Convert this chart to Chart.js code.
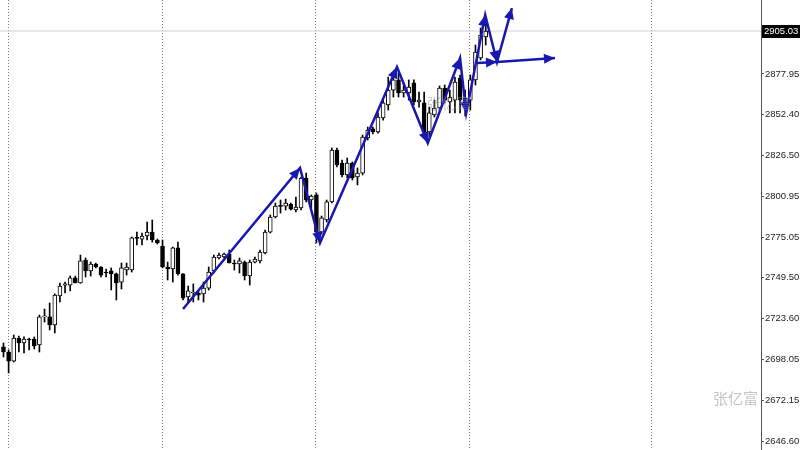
<!DOCTYPE html>
<html>
<head>
<meta charset="utf-8">
<script src="https://cdn.jsdelivr.net/npm/chart.js@4.4.1/dist/chart.umd.min.js"></script>
<style>
html,body{margin:0;padding:0;background:#fff;}
#wrap{width:800px;height:450px;position:relative;}
</style>
</head>
<body>
<div id="wrap"><canvas id="c" width="800" height="450"></canvas></div>
<script>
// ---- data (candles indexed 0..94) ----
const opens  = [2705.9,2702.7,2697.0,2711.5,2708.4,2710.9,2710.9,2707.1,2724.8,2724.8,
                2719.7,2738.0,2744.9,2744.9,2749.4,2746.2,2760.7,2753.8,2758.2,2756.3,
                2753.1,2753.8,2751.9,2746.8,2754.4,2754.4,2774.6,2773.9,2775.8,2778.3,
                2773.3,2769.5,2756.3,2755.0,2768.3,2751.9,2737.4,2739.9,2739.9,2739.3,
                2743.0,2753.8,2762.0,2762.6,2764.5,2758.8,2758.2,2759.4,2750.6,2759.4,
                2760.1,2765.1,2778.3,2787.8,2794.7,2794.7,2796.0,2792.2,2793.5,2812.4,
                2798.5,2801.7,2778.3,2785.9,2797.3,2830.0,2821.8,2814.3,2821.8,2813.0,
                2815.5,2837.6,2843.3,2841.4,2850.2,2858.4,2867.8,2874.2,2866.0,2866.0,
                2872.3,2860.3,2859.7,2841.4,2852.1,2856.5,2869.1,2860.3,2861.5,2875.4,
                2856.5,2861.5,2874.2,2888.0,2901.3];
const highs  = [2708.4,2704.0,2713.4,2712.8,2712.2,2711.5,2712.2,2726.0,2729.8,2733.6,
                2739.3,2746.2,2746.8,2750.6,2750.6,2763.8,2762.0,2759.4,2758.8,2756.5,
                2755.0,2755.7,2752.5,2758.8,2758.8,2775.2,2778.3,2777.7,2784.6,2785.9,
                2773.9,2773.3,2759.4,2768.9,2772.0,2752.1,2744.3,2745.6,2741.2,2746.8,
                2756.3,2763.8,2765.1,2765.1,2767.0,2760.7,2762.0,2760.1,2760.7,2762.6,
                2767.0,2779.6,2789.1,2796.6,2798.5,2799.1,2796.6,2800.4,2813.0,2815.5,
                2801.7,2802.9,2788.4,2798.5,2831.3,2831.3,2823.7,2825.0,2822.5,2818.7,
                2839.5,2844.5,2844.5,2853.4,2862.8,2876.0,2877.3,2878.6,2872.3,2874.2,
                2874.2,2866.6,2866.6,2857.1,2861.5,2870.4,2871.0,2867.8,2876.0,2877.3,
                2867.8,2877.3,2896.2,2906.9,2908.8];
const lows   = [2699.6,2689.5,2696.4,2702.7,2702.1,2704.0,2704.6,2702.7,2721.6,2716.6,
                2714.7,2734.2,2739.9,2741.2,2746.2,2746.0,2750.0,2750.6,2755.7,2750.0,
                2750.0,2741.8,2735.5,2742.4,2751.2,2753.1,2770.2,2770.2,2773.3,2772.0,
                2770.8,2755.7,2748.1,2746.8,2751.2,2735.5,2733.6,2734.2,2735.5,2734.2,
                2741.8,2752.5,2761.3,2762.0,2758.8,2754.4,2752.5,2748.1,2744.9,2758.8,
                2758.8,2764.5,2777.7,2787.2,2790.3,2792.2,2792.2,2791.0,2792.2,2797.3,
                2793.5,2771.4,2777.1,2784.6,2796.6,2819.3,2813.0,2812.4,2811.1,2808.0,
                2814.3,2836.3,2840.1,2840.7,2848.9,2855.2,2863.4,2863.4,2863.4,2861.5,
                2858.4,2857.1,2840.1,2838.2,2850.8,2855.2,2859.7,2853.4,2853.4,2853.4,
                2851.5,2855.2,2871.0,2886.8,2896.2];
const closes = [2702.7,2697.0,2711.5,2708.4,2710.9,2710.3,2706.5,2724.8,2725.0,2719.7,
                2738.6,2744.3,2745.6,2749.4,2746.2,2760.1,2753.8,2758.2,2756.3,2751.2,
                2752.5,2751.9,2746.2,2755.7,2756.3,2774.6,2774.3,2775.8,2778.3,2773.3,
                2771.4,2756.3,2755.0,2768.3,2751.9,2736.7,2741.2,2740.1,2738.6,2743.0,
                2753.1,2762.6,2763.8,2764.5,2758.8,2758.2,2760.1,2750.6,2759.4,2761.3,
                2765.7,2778.3,2787.8,2794.7,2794.5,2796.6,2792.8,2794.1,2812.4,2798.5,
                2801.0,2778.3,2787.2,2797.3,2830.0,2820.6,2814.3,2821.8,2812.4,2815.5,
                2838.2,2842.6,2841.4,2850.8,2859.7,2867.8,2874.2,2866.0,2867.8,2869.7,
                2860.3,2861.5,2841.4,2853.4,2856.5,2869.1,2861.5,2863.4,2872.9,2861.5,
                2862.8,2874.2,2891.8,2902.5,2905.03];

// hand-drawn zigzag arrows (bar index, price)
const zigX  = [35.0, 57.8, 61.7, 76.7, 82.7, 89.0, 90.2, 93.9, 96.2, 99.1];
const zigY  = [2729.8, 2818.7, 2771.4, 2882.3, 2834.4, 2888.0, 2853.4, 2915.1, 2885.5, 2919.5];
const flatX = [92.3, 96.2, 107.5];
const flatY = [2884.9, 2885.5, 2888.0];

// axis tick labels / grid positions
const yTickValues = [2646.60, 2672.15, 2698.05, 2723.60, 2749.50, 2775.05, 2800.95, 2826.50, 2852.40, 2877.95];
const xGridPositions = [0.9, 30.9, 60.9, 90.9, 126.4];
const currentPrice = 2905.03;
const watermark = '张亿富';

// ---- build datasets ----
const wickData = opens.map((o, i) => ({x: i, y: [lows[i], highs[i]]}));
const bodyData = opens.map((o, i) => ({x: i, y: [Math.min(o, closes[i]), Math.max(o, closes[i])]}));
const bodyFill = opens.map((o, i) => closes[i] >= o ? '#ffffff' : '#000000');
const zigData = zigX.map((x, i) => ({x, y: zigY[i]}));
const flatData = flatX.map((x, i) => ({x, y: flatY[i]}));

const arrowPlugin = {
  id: 'arrows',
  afterDatasetsDraw(chart) {
    const ctx = chart.ctx;
    chart.data.datasets.forEach((ds, di) => {
      if (!ds.arrowHeads) return;
      const pts = chart.getDatasetMeta(di).data;
      ctx.save();
      ctx.fillStyle = ds.borderColor;
      for (let j = 1; j < pts.length; j++) {
        const a = pts[j - 1], b = pts[j];
        const ang = Math.atan2(b.y - a.y, b.x - a.x);
        const L = 11, W = 5;
        ctx.beginPath();
        ctx.moveTo(b.x, b.y);
        ctx.lineTo(b.x - L * Math.cos(ang) + W * Math.sin(ang), b.y - L * Math.sin(ang) - W * Math.cos(ang));
        ctx.lineTo(b.x - L * Math.cos(ang) - W * Math.sin(ang), b.y - L * Math.sin(ang) + W * Math.cos(ang));
        ctx.closePath();
        ctx.fill();
      }
      ctx.restore();
    });
  },
  afterDraw(chart) {
    const ctx = chart.ctx;
    const ys = chart.scales.y;
    const py = Math.round(ys.getPixelForValue(currentPrice));
    ctx.save();
    ctx.fillStyle = '#000';
    ctx.fillRect(ys.left + 1, py - 6, 39, 13);
    ctx.fillStyle = '#fff';
    ctx.font = '9.5px "Liberation Sans"';
    ctx.textBaseline = 'middle';
    ctx.fillText(currentPrice.toFixed(2), ys.left + 3, py + 0.5);
    // watermarks
    ctx.font = '15px "Noto Sans CJK SC"';
    ctx.fillStyle = '#c4c4c4';
    ctx.textBaseline = 'middle';
    ctx.textAlign = 'right';
    ctx.fillText(watermark, ys.left - 3, ys.getPixelForValue(2672.15) - 2);
    ctx.fillStyle = 'rgba(140,140,140,0.45)';
    ctx.textAlign = 'center';
    ctx.fillText(watermark, 449, 103);
    ctx.restore();
  }
};

new Chart(document.getElementById('c'), {
  data: {
    datasets: [
      {type: 'line', data: zigData, borderColor: '#1818b0', borderWidth: 2.5, pointRadius: 0, tension: 0, order: 0, arrowHeads: true},
      {type: 'line', data: flatData, borderColor: '#1818b0', borderWidth: 2.5, pointRadius: 0, tension: 0, order: 0, arrowHeads: true},
      {type: 'bar', data: bodyData, backgroundColor: bodyFill, borderColor: '#000', borderWidth: 1, borderSkipped: false,
       barThickness: 4, minBarLength: 1, grouped: false, order: 1},
      {type: 'bar', data: wickData, backgroundColor: '#000', borderWidth: 0, barThickness: 1, grouped: false, order: 2},
      {type: 'line', data: [{x: -1, y: currentPrice}, {x: 150, y: currentPrice}], borderColor: '#d2d2d2', borderWidth: 1, pointRadius: 0, order: 3}
    ]
  },
  options: {
    responsive: false,
    animation: false,
    layout: {padding: 0},
    plugins: {legend: {display: false}, tooltip: {enabled: false}},
    scales: {
      x: {
        type: 'linear', min: -0.68, max: 147.66, offset: false,
        ticks: {display: false},
        grid: {color: '#7a7a7a', lineWidth: 1, drawTicks: false, offset: false},
        border: {display: false, dash: [1, 2]},
        afterBuildTicks: s => { s.ticks = xGridPositions.map(v => ({value: v})); },
        afterFit: s => { s.height = 0; s.paddingLeft = 0; s.paddingRight = 0; }
      },
      y: {
        type: 'linear', position: 'right', min: 2640.94, max: 2924.57,
        grid: {drawOnChartArea: false, drawTicks: true, tickLength: 3, color: '#555'},
        border: {display: true, color: '#555'},
        ticks: {color: '#222', font: {family: '"Liberation Sans"', size: 9.5}, padding: 1,
                callback: v => Number(v).toFixed(2)},
        afterBuildTicks: s => { s.ticks = yTickValues.map(v => ({value: v})); },
        afterFit: s => { s.width = 39; s.paddingTop = 0; s.paddingBottom = 0; }
      }
    }
  },
  plugins: [arrowPlugin]
});
</script>
</body>
</html>
